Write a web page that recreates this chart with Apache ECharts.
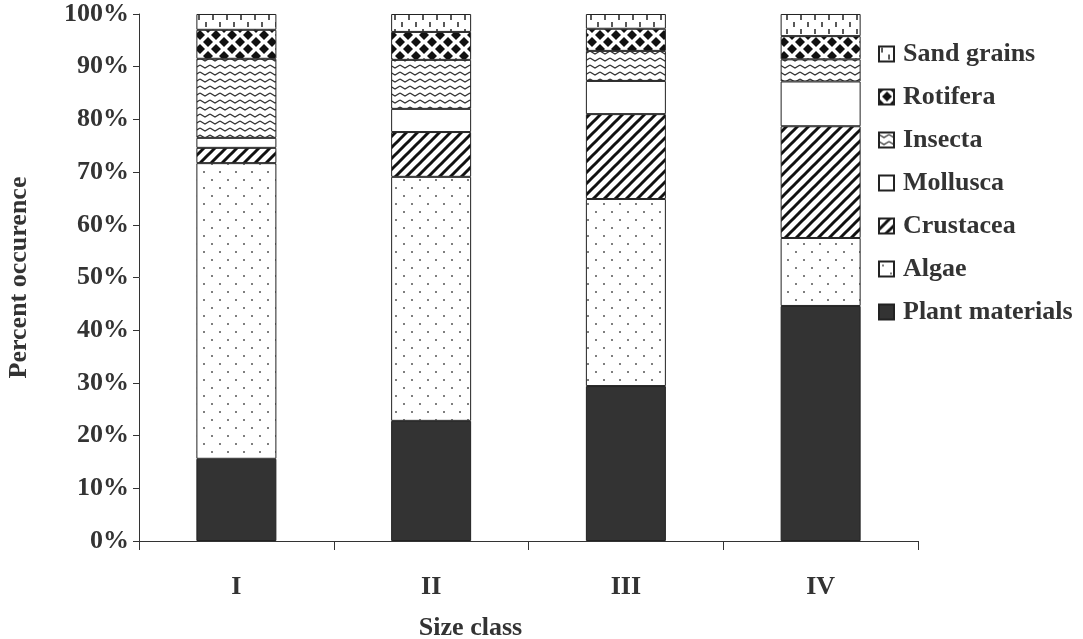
<!DOCTYPE html>
<html>
<head>
<meta charset="utf-8">
<script src="https://cdn.jsdelivr.net/npm/echarts@6/dist/echarts.min.js"></script>
<style>
  html, body { margin: 0; padding: 0; background: #fff; }
  #chart { width: 1083px; height: 639px; }
</style>
</head>
<body>
<div id="chart"></div>
<script>
// diet composition by size class (stacked to 100%)
const categories = ["I", "II", "III", "IV"];
const plant = [15.6, 22.8, 29.4, 44.6];
const algae = [56.1, 46.3, 35.5, 12.9];
const crustacea = [2.9, 8.5, 16.1, 21.2];
const mollusca = [1.9, 4.4, 6.3, 8.5];
const insecta = [15.0, 9.3, 5.7, 4.2];
const rotifera = [5.5, 5.3, 4.2, 4.4];
const sand = [3.0, 3.4, 2.8, 4.2];

const font = "Liberation Serif";
const ink = "#333";

// small canvas tiles used as hatch fills
function pattern(w, h, draw) {
  const c = document.createElement("canvas");
  c.width = w;
  c.height = h;
  const ctx = c.getContext("2d");
  ctx.fillStyle = "#fff";
  ctx.fillRect(0, 0, w, h);
  draw(ctx);
  return { image: c, repeat: "repeat" };
}

const dots = pattern(16, 16, (ctx) => {
  ctx.fillStyle = "#555";
  ctx.beginPath(); ctx.arc(4, 4, 1, 0, Math.PI * 2); ctx.fill();
  ctx.beginPath(); ctx.arc(12, 12, 1, 0, Math.PI * 2); ctx.fill();
});

const stripes = pattern(11, 11, (ctx) => {
  ctx.strokeStyle = "#111";
  ctx.lineWidth = 3;
  [0, 11, 22].forEach((k) => {
    ctx.beginPath(); ctx.moveTo(-2, k + 2); ctx.lineTo(k + 2, -2); ctx.stroke();
  });
});

const waves = pattern(10, 7, (ctx) => {
  ctx.strokeStyle = "#333";
  ctx.lineWidth = 1.3;
  ctx.beginPath(); ctx.moveTo(0, 2); ctx.lineTo(5, 5); ctx.lineTo(10, 2); ctx.stroke();
});

const diamonds = pattern(16, 14, (ctx) => {
  ctx.fillStyle = "#111";
  const d = (x, y) => {
    ctx.beginPath();
    ctx.moveTo(x, y - 5); ctx.lineTo(x + 5, y); ctx.lineTo(x, y + 5); ctx.lineTo(x - 5, y);
    ctx.closePath(); ctx.fill();
  };
  d(8, 7); d(0, 0); d(16, 0); d(0, 14); d(16, 14);
});

const ticks = pattern(14, 14, (ctx) => {
  ctx.strokeStyle = "#222";
  ctx.lineWidth = 1.5;
  ctx.beginPath(); ctx.moveTo(3, 1); ctx.lineTo(3, 6); ctx.stroke();
  ctx.beginPath(); ctx.moveTo(10, 8); ctx.lineTo(10, 13); ctx.stroke();
});

function bar(name, data, fill) {
  return {
    name: name,
    type: "bar",
    stack: "all",
    barWidth: 80,
    data: data,
    itemStyle: { color: fill, borderColor: "#222", borderWidth: 1 },
  };
}

const chart = echarts.init(document.getElementById("chart"));

const option = {
  animation: false,
  backgroundColor: "#fff",
  textStyle: { fontFamily: font },
  grid: { left: 139, right: 165, top: 14, bottom: 98, containLabel: false, outerBoundsMode: "none" },
  legend: {
    orient: "vertical",
    left: 873,
    top: 36,
    icon: "rect",
    itemWidth: 15,
    itemHeight: 15,
    itemGap: 17,
    data: ["Sand grains", "Rotifera", "Insecta", "Mollusca", "Crustacea", "Algae", "Plant materials"],
    textStyle: { fontFamily: font, fontSize: 26, fontWeight: "bold", color: ink, lineHeight: 26, padding: [0, 0, 0, 4] },
  },
  xAxis: {
    type: "category",
    data: categories,
    name: "Size class",
    nameLocation: "middle",
    nameGap: 74,
    nameTextStyle: { fontFamily: font, fontSize: 26, fontWeight: "bold", color: ink, padding: [0, 116, 0, 0] },
    axisLine: { lineStyle: { color: ink, width: 1 } },
    axisTick: { show: true, length: 9, lineStyle: { color: ink } },
    axisLabel: { fontFamily: font, fontSize: 26, fontWeight: "bold", color: ink, margin: 33 },
  },
  yAxis: {
    type: "value",
    min: 0,
    max: 100,
    interval: 10,
    name: "Percent occurence",
    nameLocation: "middle",
    nameGap: 107,
    nameTextStyle: { fontFamily: font, fontSize: 26, fontWeight: "bold", color: ink },
    axisLine: { show: true, lineStyle: { color: ink, width: 1 } },
    axisTick: { show: true, length: 6, lineStyle: { color: ink } },
    splitLine: { show: false },
    axisLabel: { fontFamily: font, fontSize: 26, fontWeight: "bold", color: ink, margin: 10, formatter: "{value}%" },
  },
  series: [
    bar("Plant materials", plant, "#333"),
    bar("Algae", algae, dots),
    bar("Crustacea", crustacea, stripes),
    bar("Mollusca", mollusca, "#fff"),
    bar("Insecta", insecta, waves),
    bar("Rotifera", rotifera, diamonds),
    bar("Sand grains", sand, ticks),
  ],
};

chart.setOption(option);
window.addEventListener("resize", () => chart.resize());
</script>
</body>
</html>
